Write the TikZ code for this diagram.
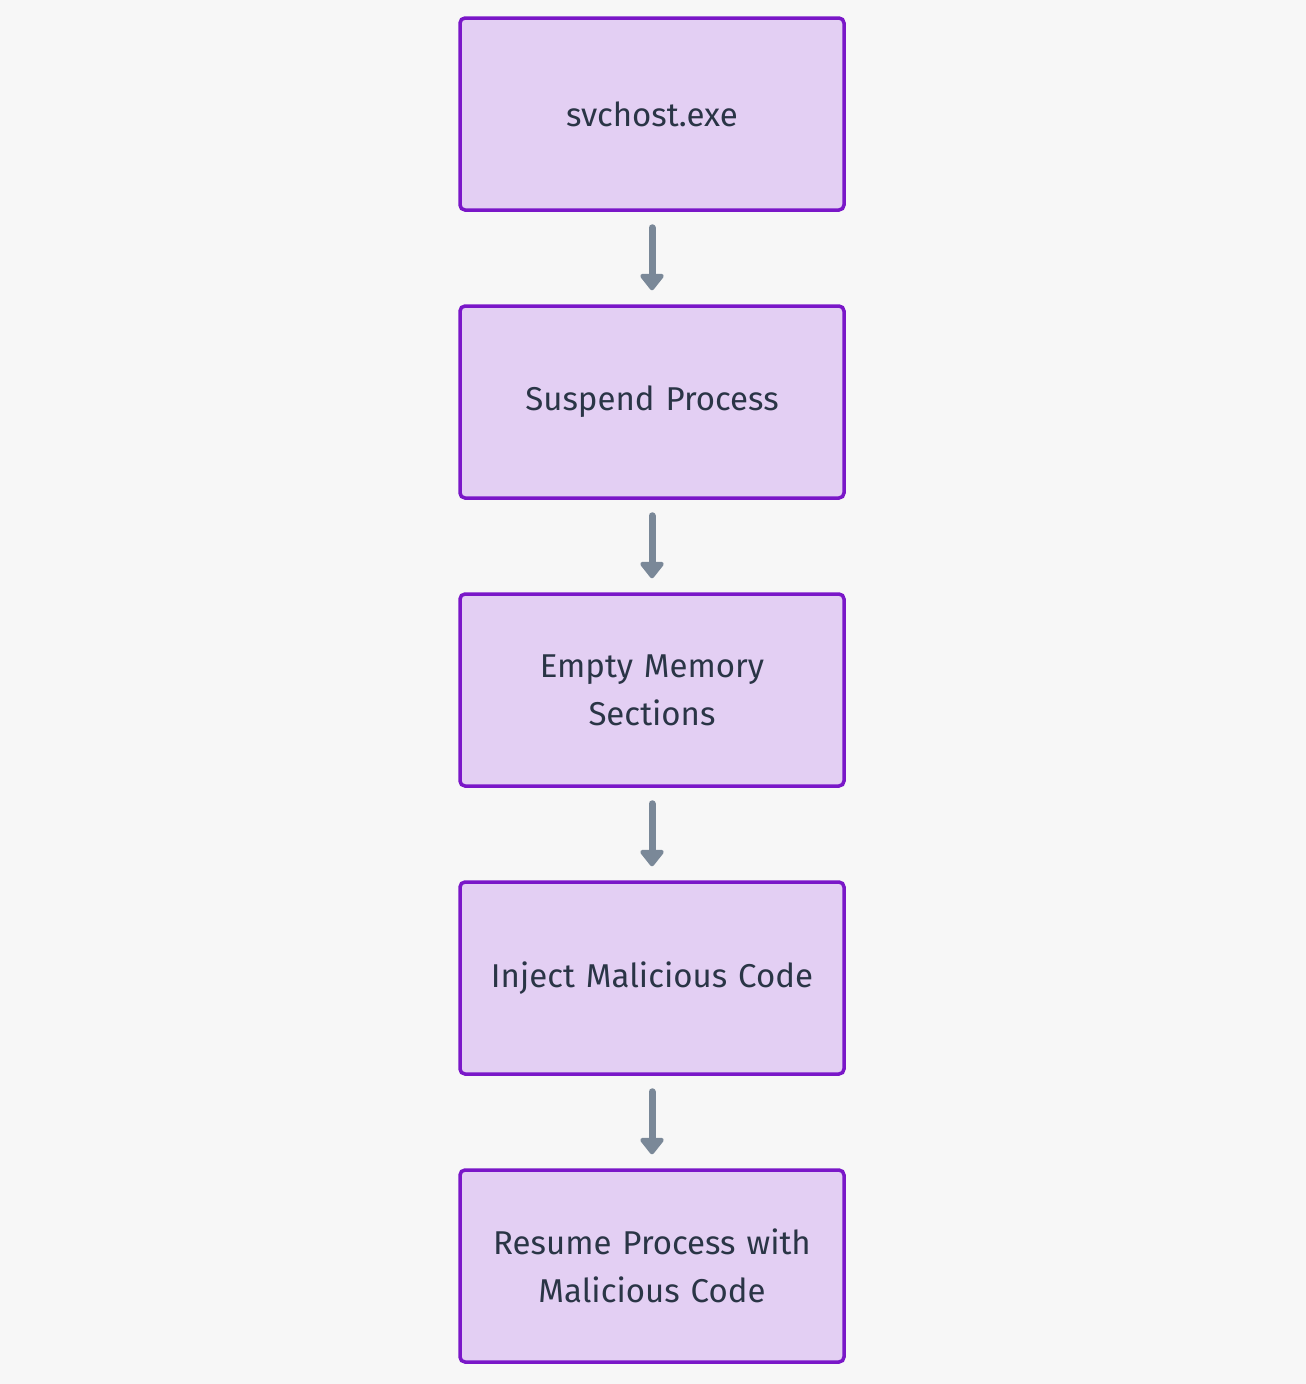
\documentclass[tikz,border=0pt]{standalone}
\usepackage{fontspec}
\setmainfont{Fira Sans}
\usetikzlibrary{arrows.meta}
\definecolor{bg}{HTML}{F7F7F7}
\definecolor{boxfill}{HTML}{E3CFF3}
\definecolor{boxline}{HTML}{7A17C8}
\definecolor{txt}{HTML}{2A3546}
\definecolor{arrowc}{HTML}{7A8898}
\tikzset{
  stepbox/.style={draw=boxline, fill=boxfill, line width=3.5pt, rounded corners=5pt,
    minimum width=384pt, minimum height=192pt, inner sep=0pt, align=center,
    text width=370pt, text=txt, font=\fontsize{33}{48}\selectfont},
  arr/.style={draw=arrowc, line width=7pt, line cap=round,
    -{Triangle[length=18pt,width=27pt,round]}, shorten <=16pt, shorten >=14pt}
}
\begin{document}
\begin{tikzpicture}[x=1pt,y=1pt]
\fill[bg] (0,0) rectangle (1306,-1384);
\useasboundingbox (0,0) rectangle (1306,-1384);
\node[stepbox] (a) at (652,-114) {svchost.exe};
\node[stepbox] (b) at (652,-402) {Suspend Process};
\node[stepbox] (c) at (652,-690) {Empty Memory\\Sections};
\node[stepbox] (d) at (652,-978) {Inject Malicious Code};
\node[stepbox] (e) at (652,-1266) {Resume Process with\\Malicious Code};
\draw[arr] (a) -- (b);
\draw[arr] (b) -- (c);
\draw[arr] (c) -- (d);
\draw[arr] (d) -- (e);
\end{tikzpicture}
\end{document}
